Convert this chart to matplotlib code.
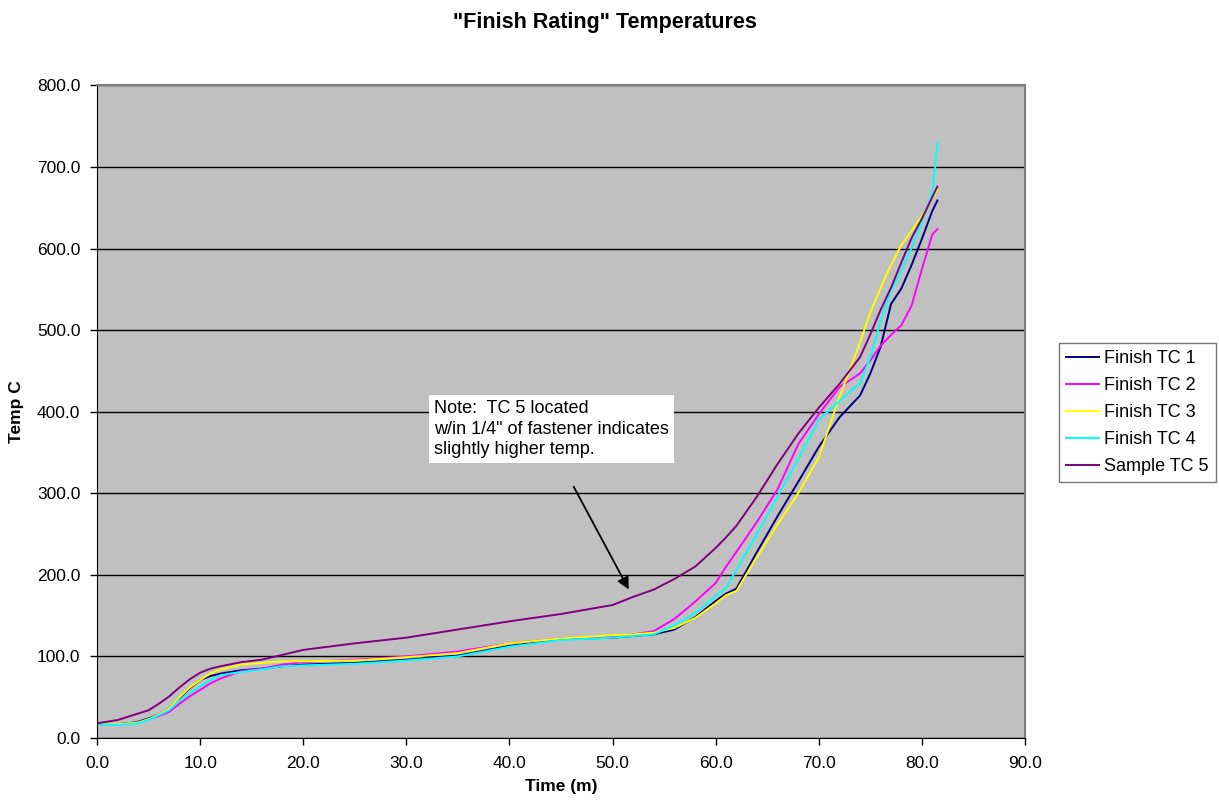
import matplotlib
matplotlib.use("Agg")
import matplotlib.pyplot as plt
from matplotlib.ticker import MultipleLocator, FormatStrFormatter

plt.rcParams['font.family'] = ['Liberation Sans', 'DejaVu Sans']

# time in minutes
time = [0, 2, 3, 4, 5, 6, 7, 8, 9, 10, 11, 12, 14, 16, 18, 20, 25, 30, 35, 40, 45, 50,
        52, 54, 56, 58, 60, 61, 62, 64, 66, 68, 70, 72, 74, 75, 76, 77, 78, 79, 80, 81, 81.5]

finish_tc1 = [17, 17, 18, 20, 24, 29, 36, 49, 61, 71, 76, 79, 83, 85, 88, 90, 92, 96, 101, 113, 121, 123,
              125, 127, 133, 148, 168, 177, 183, 228, 272, 314, 357, 393, 420, 447, 480, 532, 551, 580, 612, 646, 659]
finish_tc2 = [17, 17, 18, 19, 23, 27, 32, 42, 51, 59, 67, 73, 82, 85, 90, 93, 96, 100, 106, 116, 122, 125,
              127, 131, 146, 167, 190, 210, 228, 265, 305, 360, 397, 430, 447, 463, 481, 494, 506, 530, 575, 617, 624]
finish_tc3 = [17, 17, 18, 19, 23, 29, 36, 50, 62, 71, 79, 84, 90, 92, 94, 94, 95, 99, 104, 116, 122, 126,
              127, 129, 135, 147, 165, 175, 180, 222, 262, 300, 344, 418, 485, 522, 552, 580, 604, 622, 640, 662, 672]
finish_tc4 = [17, 16, 17, 18, 22, 28, 34, 46, 55, 63, 71, 77, 81, 84, 88, 89, 91, 95, 100, 112, 120, 123,
              125, 127, 138, 153, 174, 184, 206, 250, 296, 342, 390, 413, 435, 467, 512, 548, 573, 601, 633, 668, 729]
sample_tc5 = [18, 22, 26, 30, 34, 42, 51, 62, 72, 80, 85, 88, 93, 96, 102, 108, 116, 123, 133, 143, 152, 163,
              173, 182, 195, 210, 233, 246, 260, 296, 336, 373, 405, 434, 467, 495, 525, 552, 583, 613, 637, 663, 676]

series = [
    ("Finish TC 1", finish_tc1, "#000080"),
    ("Finish TC 2", finish_tc2, "#FF00FF"),
    ("Finish TC 3", finish_tc3, "#FFFF00"),
    ("Finish TC 4", finish_tc4, "#00FFFF"),
    ("Sample TC 5", sample_tc5, "#800080"),
]

fig = plt.figure(figsize=(12.19, 8.06), dpi=100)
ax = fig.add_axes([0.0796, 0.0844, 0.7613, 0.8096])
ax.set_facecolor("#C0C0C0")

for label, values, color in series:
    ax.plot(time, values, color=color, lw=1.4, label=label)

ax.set_xlim(0, 90)
ax.set_ylim(0, 800)
ax.xaxis.set_major_locator(MultipleLocator(10))
ax.yaxis.set_major_locator(MultipleLocator(100))
ax.xaxis.set_major_formatter(FormatStrFormatter("%.1f"))
ax.yaxis.set_major_formatter(FormatStrFormatter("%.1f"))
ax.tick_params(axis="both", direction="out", length=5, width=1, labelsize=12.5, colors="black")
ax.tick_params(axis="x", pad=8)
ax.tick_params(axis="y", pad=7)
ax.grid(axis="y", color="black", lw=1)
ax.set_axisbelow(True)

for side in ["top", "right"]:
    ax.spines[side].set_color("#808080")
    ax.spines[side].set_linewidth(1.5)
for side in ["left", "bottom"]:
    ax.spines[side].set_color("black")

ax.set_xlabel("Time (m)", fontsize=12.5, fontweight="bold", labelpad=6)
ax.set_ylabel("Temp C", fontsize=12.5, fontweight="bold", labelpad=9)
fig.text(0.4963, 0.9727, "\"Finish Rating\" Temperatures", ha="center", va="center",
         fontsize=15.5, fontweight="bold")

# annotation box and arrow
ax.text(32.7, 414, "Note:  TC 5 located\nw/in 1/4\" of fastener indicates\nslightly higher temp.",
        fontsize=13, va="top", ha="left", linespacing=1.25,
        bbox=dict(facecolor="white", edgecolor="none", pad=3.5))
ax.annotate("", xy=(51.7, 179), xytext=(46.1, 311),
            arrowprops=dict(arrowstyle="-|>", color="black", lw=1.3, mutation_scale=18))

leg = fig.legend(loc="upper left", bbox_to_anchor=(0.8688, 0.5744), fontsize=13,
                 frameon=True, fancybox=False, edgecolor="#555555", handlelength=1.8,
                 handletextpad=0.3, borderpad=0.4, labelspacing=0.55, borderaxespad=0)
leg.get_frame().set_linewidth(1.0)

fig.savefig("out.png", dpi=100)
